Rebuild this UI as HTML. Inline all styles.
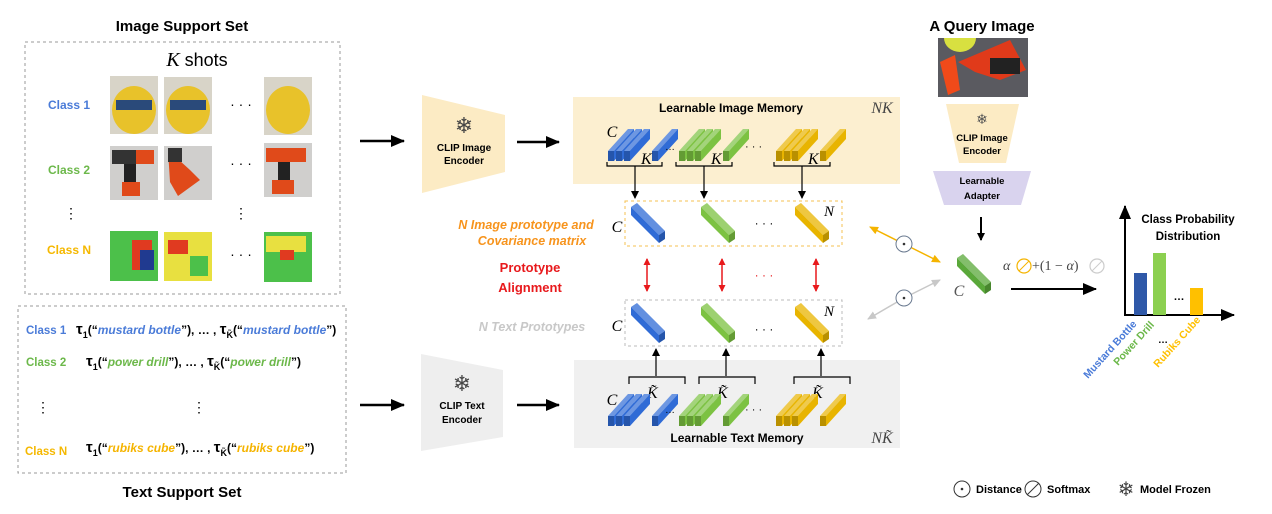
<!DOCTYPE html>
<html><head><meta charset="utf-8"><style>
body{margin:0;background:#fff}
svg{display:block;font-family:"Liberation Sans",sans-serif}
.b{font-weight:bold}
.m{font-family:"Liberation Serif",serif;font-style:italic}
</style></head><body>
<svg width="1272" height="514" viewBox="0 0 1272 514" xmlns="http://www.w3.org/2000/svg">
<defs>
<marker id="ah" markerWidth="8" markerHeight="8" refX="7" refY="4" orient="auto" markerUnits="userSpaceOnUse"><path d="M0,0 L8,4 L0,8z" fill="#000"/></marker>
<marker id="ahL" markerWidth="14" markerHeight="12" refX="13" refY="6" orient="auto" markerUnits="userSpaceOnUse"><path d="M0,0 L14,6 L0,12z" fill="#000"/></marker>
<marker id="ar" markerWidth="7" markerHeight="7" refX="6" refY="3.5" orient="auto-start-reverse" markerUnits="userSpaceOnUse"><path d="M0,0 L7,3.5 L0,7z" fill="#e8191c"/></marker>
<marker id="ay" markerWidth="9" markerHeight="8" refX="8" refY="4" orient="auto" markerUnits="userSpaceOnUse"><path d="M0,0 L9,4 L0,8z" fill="#f5b400"/></marker>
<marker id="ag" markerWidth="9" markerHeight="8" refX="8" refY="4" orient="auto" markerUnits="userSpaceOnUse"><path d="M0,0 L9,4 L0,8z" fill="#c8c8c8"/></marker>
<g id="pb">
<polygon points="0,4 6,0 34,28 28,32" fill="currentColor"/>
<polygon points="0,4 6,0 34,28 28,32" fill="#fff" opacity=".25"/>
<polygon points="0,4 28,32 28,40 0,12" fill="currentColor"/>
<polygon points="28,32 34,28 34,36 28,40" fill="currentColor"/>
<polygon points="28,32 34,28 34,36 28,40" fill="#000" opacity=".2"/>
</g>
<g id="mb">
<polygon points="0,14 20,-8 26,-8 6,14" fill="currentColor"/>
<polygon points="0,14 20,-8 26,-8 6,14" fill="#fff" opacity=".3"/>
<polygon points="6,14 26,-8 26,2 6,24" fill="currentColor"/>
<rect x="0" y="14" width="6" height="10" fill="currentColor"/>
<rect x="0" y="14" width="6" height="10" fill="#000" opacity=".2"/>
</g>
<g id="grp">
<use href="#mb" x="0" y="0"/><use href="#mb" x="8" y="0"/><use href="#mb" x="16" y="0"/><use href="#mb" x="44" y="0"/>
</g>
</defs>

<text x="182" y="31" text-anchor="middle" class="b" font-size="15">Image Support Set</text>
<rect x="25" y="42" width="315" height="252" fill="none" stroke="#999" stroke-dasharray="3,3"/>
<text x="197" y="66" text-anchor="middle" font-size="18"><tspan class="m" font-size="20">K</tspan> shots</text>
<text x="69" y="109" text-anchor="middle" class="b" font-size="12" fill="#4a7bd8">Class 1</text>
<text x="69" y="174" text-anchor="middle" class="b" font-size="12" fill="#6cb84a">Class 2</text>
<text x="69" y="254" text-anchor="middle" class="b" font-size="12" fill="#f5b800">Class N</text>
<g>
<rect x="110" y="76" width="48" height="58" fill="#d8d4c8"/><ellipse cx="134" cy="110" rx="22" ry="24" fill="#e8c22a"/><rect x="116" y="100" width="36" height="10" fill="#2a4a7a"/>
<rect x="164" y="77" width="48" height="57" fill="#d8d4c8"/><ellipse cx="188" cy="110" rx="22" ry="24" fill="#e8c22a"/><rect x="170" y="100" width="36" height="10" fill="#2a4a7a"/>
<rect x="264" y="77" width="48" height="58" fill="#d8d4c8"/><ellipse cx="288" cy="110" rx="22" ry="24" fill="#e8c22a"/>
<rect x="110" y="146" width="48" height="54" fill="#d0cfcd"/><rect x="112" y="150" width="40" height="14" fill="#333"/><rect x="124" y="164" width="12" height="20" fill="#222"/><rect x="122" y="182" width="18" height="14" fill="#e04a1a"/><rect x="136" y="150" width="18" height="14" fill="#e04a1a"/>
<rect x="164" y="146" width="48" height="54" fill="#d0cfcd"/><polygon points="168,150 190,170 200,180 178,196 170,182" fill="#e04a1a"/><rect x="168" y="148" width="14" height="14" fill="#333"/>
<rect x="264" y="143" width="48" height="54" fill="#d0cfcd"/><rect x="266" y="148" width="40" height="14" fill="#e04a1a"/><rect x="278" y="162" width="12" height="20" fill="#222"/><rect x="272" y="180" width="22" height="14" fill="#e04a1a"/>
<rect x="110" y="231" width="48" height="50" fill="#4cc04a"/><rect x="132" y="240" width="20" height="30" fill="#e03a20"/><rect x="140" y="250" width="14" height="20" fill="#203a90"/>
<rect x="164" y="232" width="48" height="49" fill="#e8e040"/><rect x="168" y="240" width="20" height="14" fill="#e03a20"/><rect x="190" y="256" width="18" height="20" fill="#4cc04a"/>
<rect x="264" y="232" width="48" height="50" fill="#4cc04a"/><rect x="266" y="236" width="40" height="16" fill="#e8e040"/><rect x="280" y="250" width="14" height="10" fill="#e03a20"/>
</g>
<text x="241" y="109" text-anchor="middle" font-size="14">· · ·</text>
<text x="241" y="168" text-anchor="middle" font-size="14">· · ·</text>
<text x="241" y="259" text-anchor="middle" font-size="14">· · ·</text>
<text x="71" y="218" text-anchor="middle" font-size="14">⋮</text>
<text x="241" y="218" text-anchor="middle" font-size="14">⋮</text>

<rect x="18" y="306" width="328" height="167" fill="none" stroke="#999" stroke-dasharray="3,3"/>
<g font-size="11.5" class="b">
<text x="26" y="334" fill="#4a7bd8">Class 1</text>
<text x="26" y="366" fill="#6cb84a">Class 2</text>
<text x="25" y="455" fill="#f5b800">Class N</text>
</g>
<g font-size="12" class="b">
<text x="76" y="334"><tspan font-size="15">τ</tspan><tspan font-size="9" dy="4">1</tspan><tspan dy="-4">(“</tspan><tspan fill="#4a7bd8" font-style="italic">mustard bottle</tspan>”), … , <tspan font-size="15">τ</tspan><tspan font-size="9" dy="4">K̃</tspan><tspan dy="-4">(“</tspan><tspan fill="#4a7bd8" font-style="italic">mustard bottle</tspan>”)</text>
<text x="86" y="366"><tspan font-size="15">τ</tspan><tspan font-size="9" dy="4">1</tspan><tspan dy="-4">(“</tspan><tspan fill="#6cb84a" font-style="italic">power drill</tspan>”),  …  , <tspan font-size="15">τ</tspan><tspan font-size="9" dy="4">K̃</tspan><tspan dy="-4">(“</tspan><tspan fill="#6cb84a" font-style="italic">power drill</tspan>”)</text>
<text x="86" y="452"><tspan font-size="15">τ</tspan><tspan font-size="9" dy="4">1</tspan><tspan dy="-4">(“</tspan><tspan fill="#f5b400" font-style="italic">rubiks cube</tspan>”),  …  , <tspan font-size="15">τ</tspan><tspan font-size="9" dy="4">K̃</tspan><tspan dy="-4">(“</tspan><tspan fill="#f5b400" font-style="italic">rubiks cube</tspan>”)</text>
</g>
<text x="43" y="412" text-anchor="middle" font-size="14">⋮</text>
<text x="199" y="412" text-anchor="middle" font-size="14">⋮</text>
<text x="182" y="497" text-anchor="middle" class="b" font-size="15">Text Support Set</text>

<line x1="360" y1="141" x2="404" y2="141" stroke="#000" stroke-width="2.5" marker-end="url(#ahL)"/>
<line x1="360" y1="405" x2="404" y2="405" stroke="#000" stroke-width="2.5" marker-end="url(#ahL)"/>

<polygon points="422,95 505,115 505,172 422,193" fill="#fcebc4"/>
<text x="464" y="133" text-anchor="middle" font-size="22" fill="#444">❄</text>
<text x="464" y="151" text-anchor="middle" class="b" font-size="10">CLIP Image</text>
<text x="464" y="164" text-anchor="middle" class="b" font-size="10">Encoder</text>
<polygon points="421,354 503,370 503,437 421,451" fill="#eeeeee"/>
<text x="462" y="391" text-anchor="middle" font-size="22" fill="#444">❄</text>
<text x="462" y="409" text-anchor="middle" class="b" font-size="10">CLIP Text</text>
<text x="462" y="423" text-anchor="middle" class="b" font-size="10">Encoder</text>
<line x1="517" y1="142" x2="559" y2="142" stroke="#000" stroke-width="2.5" marker-end="url(#ahL)"/>
<line x1="517" y1="405" x2="559" y2="405" stroke="#000" stroke-width="2.5" marker-end="url(#ahL)"/>

<rect x="573" y="97" width="327" height="87" fill="#fcefd0"/>
<text x="731" y="112" text-anchor="middle" class="b" font-size="12">Learnable Image Memory</text>
<text x="882" y="113" text-anchor="middle" class="m" font-size="16" fill="#444">NK</text>
<text x="612" y="137" text-anchor="middle" class="m" font-size="16">C</text>
<use href="#grp" x="608" y="137" color="#2f6bd6"/>
<use href="#grp" x="679" y="137" color="#7cc242"/>
<use href="#grp" x="776" y="137" color="#e8b400"/>
<text x="665" y="150" font-size="10">…</text><text x="745" y="150" font-size="11">· · ·</text>
<text x="641" y="164" class="m" font-size="16">K</text><text x="711" y="164" class="m" font-size="16">K</text><text x="808" y="164" class="m" font-size="16">K</text>
<g fill="none" stroke="#000" stroke-width="1.2">
<path d="M607,162 v4 h55 v-4"/><path d="M676,162 v4 h56 v-4"/><path d="M774,162 v4 h56 v-4"/>
</g>
<g stroke="#000" stroke-width="1.2">
<line x1="635" y1="166" x2="635" y2="198" marker-end="url(#ah)"/>
<line x1="704" y1="166" x2="704" y2="198" marker-end="url(#ah)"/>
<line x1="802" y1="166" x2="802" y2="198" marker-end="url(#ah)"/>
</g>

<rect x="625" y="201" width="217" height="45" fill="none" stroke="#f5c050" stroke-dasharray="3,3"/>
<text x="617" y="232" text-anchor="middle" class="m" font-size="16">C</text>
<use href="#pb" x="631" y="203" color="#2f6bd6"/>
<use href="#pb" x="701" y="203" color="#7cc242"/>
<use href="#pb" x="795" y="203" color="#e8b400"/>
<text x="764" y="227" text-anchor="middle" font-size="12">· · ·</text>
<text x="829" y="216" text-anchor="middle" class="m" font-size="15">N</text>
<text x="526" y="229" text-anchor="middle" font-style="italic" class="b" font-size="12.5" fill="#f7941d">N Image prototype and</text>
<text x="532" y="245" text-anchor="middle" font-style="italic" class="b" font-size="12.5" fill="#f7941d">Covariance matrix</text>
<text x="530" y="272" text-anchor="middle" class="b" font-size="13" fill="#e8191c">Prototype</text>
<text x="530" y="292" text-anchor="middle" class="b" font-size="13" fill="#e8191c">Alignment</text>
<g stroke="#e8191c" stroke-width="1.5">
<line x1="647" y1="259" x2="647" y2="291" marker-start="url(#ar)" marker-end="url(#ar)"/>
<line x1="722" y1="259" x2="722" y2="291" marker-start="url(#ar)" marker-end="url(#ar)"/>
<line x1="816" y1="259" x2="816" y2="291" marker-start="url(#ar)" marker-end="url(#ar)"/>
</g>
<text x="764" y="279" text-anchor="middle" font-size="12" fill="#e8191c">· · ·</text>

<rect x="625" y="300" width="217" height="46" fill="none" stroke="#bbb" stroke-dasharray="3,3"/>
<text x="617" y="331" text-anchor="middle" class="m" font-size="16">C</text>
<use href="#pb" x="631" y="303" color="#2f6bd6"/>
<use href="#pb" x="701" y="303" color="#7cc242"/>
<use href="#pb" x="795" y="303" color="#e8b400"/>
<text x="764" y="333" text-anchor="middle" font-size="12">· · ·</text>
<text x="829" y="316" text-anchor="middle" class="m" font-size="15">N</text>
<text x="532" y="331" text-anchor="middle" font-style="italic" class="b" font-size="12.5" fill="#c8c8c8">N Text Prototypes</text>

<rect x="574" y="360" width="326" height="88" fill="#f0f0f0"/>
<g stroke="#000" stroke-width="1.2">
<line x1="656" y1="376" x2="656" y2="349" marker-end="url(#ah)"/>
<line x1="726" y1="376" x2="726" y2="349" marker-end="url(#ah)"/>
<line x1="821" y1="376" x2="821" y2="349" marker-end="url(#ah)"/>
</g>
<g fill="none" stroke="#000" stroke-width="1.2">
<path d="M629,384 v-7 h56 v7"/><path d="M699,384 v-7 h56 v7"/><path d="M794,384 v-7 h56 v7"/>
</g>
<text x="647" y="398" class="m" font-size="16">K̃</text><text x="717" y="398" class="m" font-size="16">K̃</text><text x="812" y="398" class="m" font-size="16">K̃</text>
<text x="612" y="405" text-anchor="middle" class="m" font-size="16">C</text>
<use href="#grp" x="608" y="402" color="#2f6bd6"/>
<use href="#grp" x="679" y="402" color="#7cc242"/>
<use href="#grp" x="776" y="402" color="#e8b400"/>
<text x="665" y="413" font-size="10">…</text><text x="745" y="413" font-size="11">· · ·</text>
<text x="737" y="442" text-anchor="middle" class="b" font-size="12">Learnable Text Memory</text>
<text x="882" y="443" text-anchor="middle" class="m" font-size="16" fill="#444">NK̃</text>

<line x1="904" y1="244" x2="870" y2="227" stroke="#f5b400" stroke-width="1.5" marker-end="url(#ay)"/>
<line x1="904" y1="244" x2="940" y2="262" stroke="#f5b400" stroke-width="1.5" marker-end="url(#ay)"/>
<line x1="904" y1="298" x2="868" y2="319" stroke="#c8c8c8" stroke-width="1.5" marker-end="url(#ag)"/>
<line x1="904" y1="298" x2="940" y2="280" stroke="#c8c8c8" stroke-width="1.5" marker-end="url(#ag)"/>
<circle cx="904" cy="244" r="8" fill="#fff" stroke="#6a7a90"/><circle cx="904" cy="244" r="1.3" fill="#333"/>
<circle cx="904" cy="298" r="8" fill="#fff" stroke="#6a7a90"/><circle cx="904" cy="298" r="1.3" fill="#333"/>

<text x="982" y="31" text-anchor="middle" class="b" font-size="15">A Query Image</text>
<rect x="938" y="38" width="90" height="59" fill="#5a5a60"/>
<path d="M944,38 A16,14 0 0 0 976,38 Z" fill="#d8e040"/>
<polygon points="940,62 955,55 960,90 948,95" fill="#f04a1a"/>
<polygon points="958,62 1010,40 1026,70 1000,80 975,72" fill="#e03a1a"/>
<rect x="990" y="58" width="30" height="16" fill="#222"/>
<polygon points="946,104 1019,104 1006,163 959,163" fill="#fcebc4"/>
<text x="982" y="124" text-anchor="middle" font-size="14" fill="#555">❄</text>
<text x="982" y="141" text-anchor="middle" class="b" font-size="9.5">CLIP Image</text>
<text x="982" y="154" text-anchor="middle" class="b" font-size="9.5">Encoder</text>
<polygon points="933,171 1031,171 1021,205 944,205" fill="#d9d3ee"/>
<text x="982" y="184" text-anchor="middle" class="b" font-size="9.5">Learnable</text>
<text x="982" y="199" text-anchor="middle" class="b" font-size="9.5">Adapter</text>
<line x1="981" y1="217" x2="981" y2="240" stroke="#000" stroke-width="2" marker-end="url(#ah)"/>
<use href="#pb" x="957" y="254" color="#5aa83a"/>
<text x="959" y="296" text-anchor="middle" class="m" font-size="16" fill="#555">C</text>
<text x="1003" y="270" class="m" font-size="14" fill="#444">α</text>
<circle cx="1024" cy="266" r="7" fill="none" stroke="#f5b400" stroke-width="1.2"/><line x1="1019" y1="271" x2="1029" y2="261" stroke="#f5b400"/>
<text x="1032" y="270" font-family="Liberation Serif,serif" font-size="14" fill="#444">+(1 − <tspan font-style="italic">α</tspan>)</text>
<circle cx="1097" cy="266" r="7" fill="none" stroke="#ccc" stroke-width="1.2"/><line x1="1092" y1="271" x2="1102" y2="261" stroke="#ccc"/>
<line x1="1011" y1="289" x2="1096" y2="289" stroke="#000" stroke-width="2" marker-end="url(#ahL)"/>

<line x1="1125" y1="316" x2="1125" y2="206" stroke="#000" stroke-width="2" marker-end="url(#ahL)"/>
<line x1="1124" y1="315" x2="1234" y2="315" stroke="#000" stroke-width="2" marker-end="url(#ahL)"/>
<text x="1188" y="223" text-anchor="middle" class="b" font-size="11.5">Class Probability</text>
<text x="1188" y="240" text-anchor="middle" class="b" font-size="11.5">Distribution</text>
<rect x="1134" y="273" width="13" height="42" fill="#2f58a8"/>
<rect x="1153" y="253" width="13" height="62" fill="#8cd050"/>
<rect x="1190" y="288" width="13" height="27" fill="#ffc000"/>
<text x="1179" y="300" text-anchor="middle" class="b" font-size="11">…</text>
<text transform="translate(1088,379) rotate(-48)" class="b" font-size="10.5" fill="#4a7bd8">Mustard Bottle</text>
<text transform="translate(1118,366) rotate(-48)" class="b" font-size="10.5" fill="#6cb84a">Power Drill</text>
<text x="1158" y="343" class="b" font-size="10">…</text>
<text transform="translate(1158,368) rotate(-48)" class="b" font-size="10.5" fill="#ffc000">Rubiks Cube</text>

<circle cx="962" cy="489" r="8" fill="none" stroke="#333"/><circle cx="962" cy="489" r="1.3" fill="#333"/>
<text x="976" y="493" class="b" font-size="11">Distance</text>
<circle cx="1033" cy="489" r="8" fill="none" stroke="#333"/><line x1="1027" y1="495" x2="1039" y2="483" stroke="#333"/>
<text x="1047" y="493" class="b" font-size="11">Softmax</text>
<text x="1126" y="496" text-anchor="middle" font-size="20" fill="#444">❄</text>
<text x="1140" y="493" class="b" font-size="11">Model Frozen</text>
</svg>
</body></html>
